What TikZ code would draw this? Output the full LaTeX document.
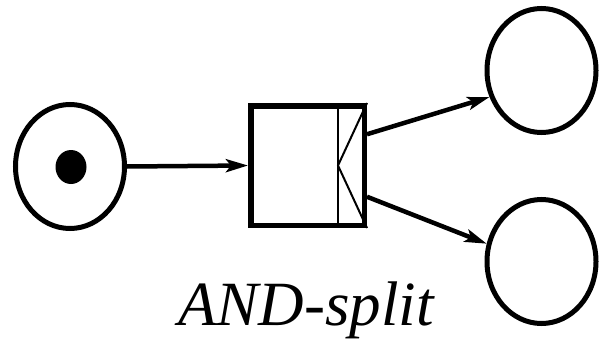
\documentclass[tikz,border=0pt]{standalone}
\usepackage{fontspec}
\setmainfont{Liberation Serif}
\usetikzlibrary{shapes.geometric,arrows.meta,calc}
\begin{document}
\begin{tikzpicture}[x=1pt,y=-1pt,
  place/.style={draw,ellipse,line width=5pt,minimum width=109pt,minimum height=124pt,inner sep=0pt},
  token/.style={fill,ellipse,minimum width=31pt,minimum height=34pt,inner sep=0pt},
  trans/.style={draw,rectangle,line width=5.5pt,minimum width=113.5pt,minimum height=119.5pt,inner sep=0pt},
  arc/.style={line width=4.5pt,-{Stealth[length=22pt,width=13pt,inset=5pt]}}]
\useasboundingbox (0,0) rectangle (599,345);
\node[place] (p1) at (70,166.5) {};
\node[token] (tok) at (71,167) {};
\node[trans] (t1) at (307.5,165.5) {};
\coordinate (s1) at (338,165.5);
\draw[line width=2pt] (t1.north -| s1) -- (t1.south -| s1);
\draw[line width=2pt] (t1.north east) -- (s1) -- (t1.south east);
\node[place] (p2) at (541.5,70.5) {};
\node[place] (p3) at (541.5,261.5) {};
\draw[arc] (p1.east) -- (t1.west);
\draw[arc] ($(t1.north east)!0.25!(t1.south east)$) -- (p2.207);
\draw[arc] ($(t1.north east)!0.75!(t1.south east)$) -- (p3.162);
\node[anchor=base,font=\fontsize{63}{63}\selectfont\itshape] (lbl) at (306,325) {AND-split};
\end{tikzpicture}
\end{document}
